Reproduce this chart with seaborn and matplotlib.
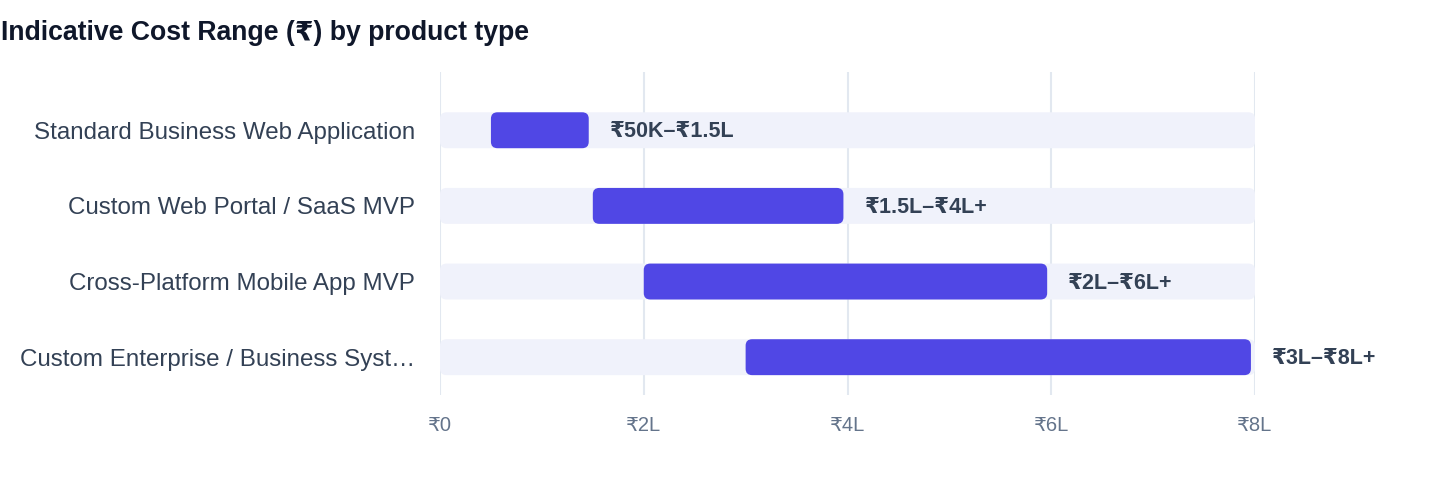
import matplotlib
matplotlib.use("Agg")
import matplotlib.pyplot as plt
from matplotlib.patches import FancyBboxPatch
import seaborn as sns

products = [
    "Standard Business Web Application",
    "Custom Web Portal / SaaS MVP",
    "Cross-Platform Mobile App MVP",
    "Custom Enterprise / Business Syst\u2026",
]
low_lakh = [0.5, 1.5, 2.0, 3.0]
high_lakh = [1.5, 4.0, 6.0, 8.0]
range_labels = ["\u20b950K\u2013\u20b91.5L", "\u20b91.5L\u2013\u20b94L+", "\u20b92L\u2013\u20b96L+", "\u20b93L\u2013\u20b98L+"]
track_max = [8, 8, 8, 8]
x_ticks = [0, 2, 4, 6, 8]
x_tick_labels = ["\u20b90", "\u20b92L", "\u20b94L", "\u20b96L", "\u20b98L"]

sns.set_theme(style="white")
plt.rcParams["font.family"] = ["Liberation Sans", "DejaVu Sans"]

fig = plt.figure(figsize=(14.4, 4.84), dpi=100)
ax = fig.add_axes([440 / 1440, 1 - 395 / 484, 815 / 1440, 323 / 484])

bar_h = 0.475
# background track
sns.barplot(x=track_max, y=products, orient="y", color="#eef1fd",
            width=bar_h, ax=ax, zorder=2)
# the actual range
ax.barh(range(len(products)), [h - l for l, h in zip(low_lakh, high_lakh)],
        left=low_lakh, height=bar_h, color="#5047e5", zorder=3)

# swap plain rectangles for rounded ones
for p in list(ax.patches):
    x0, y0 = p.get_x(), p.get_y()
    w, h = p.get_width(), p.get_height()
    fc, z = p.get_facecolor(), p.get_zorder()
    p.remove()
    if fc[2] < 0.95:
        w -= 0.04  # small inner gap like the reference
    ax.add_patch(FancyBboxPatch((x0, y0), w, h,
                                boxstyle="round,pad=0,rounding_size=0.065",
                                mutation_aspect=1.3, facecolor=fc,
                                edgecolor="none", zorder=z))

for i, (hi, lab) in enumerate(zip(high_lakh, range_labels)):
    ax.annotate(lab, xy=(hi, i), xytext=(17, -1.5), textcoords="offset pixels",
                ha="left", va="center", fontsize=15.5, fontweight="bold",
                color="#334155", annotation_clip=False)

ax.set_xlim(0, 8)
ax.set_ylim(3.5, -0.77)
ax.set_xticks(x_ticks)
ax.set_xticklabels(x_tick_labels)
ax.xaxis.grid(True, color="#e2e8f0", linewidth=1.5, zorder=0)
ax.set_axisbelow(True)
ax.tick_params(axis="x", length=0, pad=15, labelsize=14.5, labelcolor="#64748b")
ax.tick_params(axis="y", length=0, pad=18, labelsize=17.4, labelcolor="#334155")
ax.set_xlabel("")
ax.set_ylabel("")
for s in ax.spines.values():
    s.set_visible(False)

fig.text(1 / 1440, 1 - 33 / 484, "Indicative Cost Range (\u20b9) by product type",
         ha="left", va="center", fontsize=19.2, fontweight="bold", color="#0f172a")

fig.savefig("out.png", dpi=100)
